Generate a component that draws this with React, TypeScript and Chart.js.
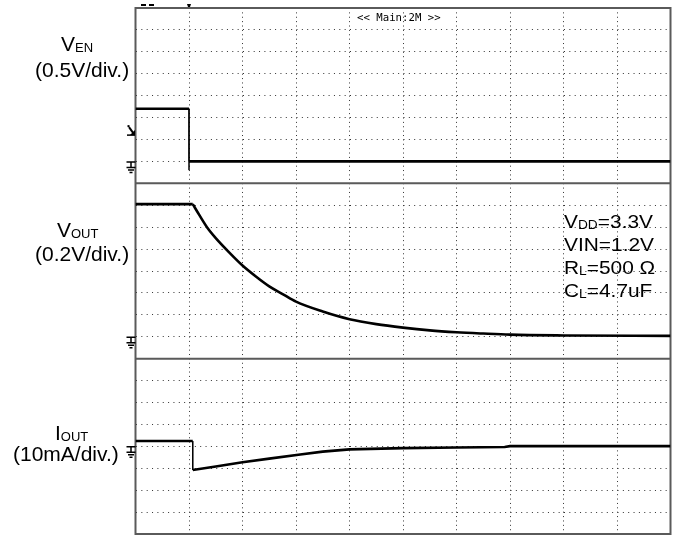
import React, { useEffect, useRef } from 'react';
import { Chart, registerables } from 'chart.js';

Chart.register(...registerables);

// ---- data (time in scope divisions, 10 div full screen) ----
const enTime = [0, 1.0, 1.0, 1.0, 10];
const enVolts = [1.2, 1.2, -0.2, 0, 0];

const outTime = [0, 1.07, 1.2, 1.35, 1.5, 1.75, 2.0, 2.25, 2.5, 2.75, 3.0, 3.5, 4.0, 4.5, 5.0, 5.5, 6.0, 6.5, 7.0, 8.0, 10];
const outVolts = [1.21, 1.21, 1.105, 0.99, 0.9, 0.77, 0.65, 0.55, 0.46, 0.39, 0.32, 0.23, 0.16, 0.115, 0.083, 0.058, 0.041, 0.029, 0.019, 0.012, 0.008];
const outKneeIndex = 1; // start of discharge

const iTime = [0, 1.07, 1.07, 1.5, 2.0, 2.5, 3.08, 3.5, 4.0, 5.0, 6.0, 6.9, 7.0, 10];
const iMilliamps = [2.4, 2.4, -10.8, -9.2, -7.3, -5.6, -3.7, -2.4, -1.4, -0.8, -0.5, -0.3, 0.1, 0.1];

// vertical ranges: 8 divisions each
const enRange = [-0.5, 3.5]; // 0.5 V/div
const outRange = [-0.2, 1.4]; // 0.2 V/div
const iRange = [-40, 40]; // 10 mA/div
const timeRange = [0, 10];
const triggerLevel = 0.6;
const triggerTime = 1.0;

const channelNames = [
  ['V', 'EN'],
  ['V', 'OUT'],
  ['I', 'OUT'],
];
const channelScales = ['(0.5V/div.)', '(0.2V/div.)', '(10mA/div.)'];
const conditionLines = [
  ['V', 'DD', '=3.3V'],
  ['VIN=1.2V', '', ''],
  ['R', 'L', '=500 Ω'],
  ['C', 'L', '=4.7uF'],
];
const headerText = '<< Main:2M >>';

const SANS = '"Liberation Sans", Arial, Helvetica, sans-serif';

function toPoints(xs: number[], ys: number[]) {
  return xs.map((x, i) => ({ x, y: ys[i] }));
}

function divTicks(min: number, max: number) {
  return (scale: any) => {
    const t = [];
    for (let i = 0; i <= 8; i++) t.push({ value: min + ((max - min) * i) / 8 });
    scale.ticks = t;
  };
}

function drawSubText(
  ctx: CanvasRenderingContext2D,
  x: number,
  y: number,
  main: string,
  sub: string,
  rest: string,
  size: number,
  subSize: number,
  sx = 1
) {
  ctx.save();
  ctx.translate(x, y);
  ctx.scale(sx, 1);
  ctx.fillStyle = '#000';
  ctx.textBaseline = 'alphabetic';
  ctx.textAlign = 'left';
  ctx.font = `${size}px ${SANS}`;
  ctx.fillText(main, 0, 0);
  let cx = ctx.measureText(main).width;
  if (sub) {
    ctx.font = `${subSize}px ${SANS}`;
    ctx.fillText(sub, cx, 1);
    cx += ctx.measureText(sub).width;
  }
  if (rest) {
    ctx.font = `${size}px ${SANS}`;
    ctx.fillText(rest, cx, 0);
  }
  ctx.restore();
}

function drawGround(ctx: CanvasRenderingContext2D, x: number, y: number) {
  ctx.save();
  ctx.strokeStyle = '#000';
  ctx.lineWidth = 1.5;
  ctx.beginPath();
  ctx.moveTo(x - 4.5, y + 0.5);
  ctx.lineTo(x + 4.5, y + 0.5);
  ctx.moveTo(x, y + 0.5);
  ctx.lineTo(x, y + 6);
  ctx.moveTo(x - 4.5, y + 6);
  ctx.lineTo(x + 4.5, y + 6);
  ctx.moveTo(x - 3, y + 8.5);
  ctx.lineTo(x + 3, y + 8.5);
  ctx.moveTo(x - 1.5, y + 11);
  ctx.lineTo(x + 1.5, y + 11);
  ctx.stroke();
  ctx.restore();
}

const scopeDecor = {
  id: 'scopeDecor',
  beforeDatasetsDraw(chart: any) {
    const ctx: CanvasRenderingContext2D = chart.ctx;
    const { left, right, top, bottom } = chart.chartArea;
    const yE = chart.scales.yEN;
    const yO = chart.scales.yOUT;
    ctx.save();
    ctx.strokeStyle = '#5a5a5a';
    ctx.lineWidth = 2;
    ctx.strokeRect(left, top, right - left, bottom - top);
    ctx.beginPath();
    ctx.moveTo(left, yE.bottom);
    ctx.lineTo(right, yE.bottom);
    ctx.moveTo(left, yO.bottom);
    ctx.lineTo(right, yO.bottom);
    ctx.stroke();
    ctx.restore();
  },
  afterDraw(chart: any) {
    const ctx: CanvasRenderingContext2D = chart.ctx;
    const xS = chart.scales.x;
    const yE = chart.scales.yEN;
    const yO = chart.scales.yOUT;
    const yI = chart.scales.yI;

    // channel labels
    drawSubText(ctx, 61, 51, channelNames[0][0], channelNames[0][1], '', 21, 13);
    drawSubText(ctx, 35, 77, channelScales[0], '', '', 21, 13);
    drawSubText(ctx, 57, 236.5, channelNames[1][0], channelNames[1][1], '', 21, 13);
    drawSubText(ctx, 35, 261, channelScales[1], '', '', 21, 13);
    drawSubText(ctx, 55, 440, channelNames[2][0], channelNames[2][1], '', 21, 13);
    drawSubText(ctx, 13, 461, channelScales[2], '', '', 21, 13);

    // test conditions
    const base = [228.3, 251, 273.5, 296.5];
    conditionLines.forEach((c, i) => drawSubText(ctx, 564, base[i], c[0], c[1], c[2], 19, 12.5, 1.1));

    // ground markers
    drawGround(ctx, 131, yE.getPixelForValue(0));
    drawGround(ctx, 131, yO.getPixelForValue(0));
    drawGround(ctx, 131, yI.getPixelForValue(0));

    // trigger level marker
    const ty = yE.getPixelForValue(triggerLevel);
    ctx.save();
    ctx.fillStyle = '#000';
    ctx.strokeStyle = '#000';
    ctx.fillRect(127.5, ty - 10, 2, 2);
    ctx.lineWidth = 2;
    ctx.beginPath();
    ctx.moveTo(129, ty - 8);
    ctx.lineTo(134, ty - 1);
    ctx.stroke();
    ctx.beginPath();
    ctx.moveTo(130, ty);
    ctx.lineTo(135, ty);
    ctx.lineTo(135, ty - 5);
    ctx.closePath();
    ctx.fill();
    ctx.lineWidth = 1.5;
    ctx.beginPath();
    ctx.moveTo(127, ty);
    ctx.lineTo(135, ty);
    ctx.stroke();

    // trigger position marker + top ticks
    const tx = xS.getPixelForValue(triggerTime);
    ctx.beginPath();
    ctx.moveTo(tx - 2, 4);
    ctx.lineTo(tx + 2, 4);
    ctx.lineTo(tx + 1, 7);
    ctx.lineTo(tx - 1, 7);
    ctx.closePath();
    ctx.fill();
    ctx.fillRect(141, 4, 5, 2);
    ctx.fillRect(149, 4, 5, 2);

    // header
    ctx.font = '10.7px "DejaVu Sans Mono", monospace';
    ctx.textBaseline = 'alphabetic';
    ctx.textAlign = 'left';
    ctx.fillText(headerText, 357, 20.5);
    ctx.restore();
  },
};

const lineStyle = {
  borderColor: '#000',
  borderWidth: 2.6,
  pointRadius: 0,
  tension: 0,
  fill: false,
  segment: {
    borderWidth: (c: any) => (c.p0.parsed.x === c.p1.parsed.x ? 1 : 2.6),
  },
};

const hGrid = { color: '#333', lineWidth: 1, drawTicks: false };

function yAxis(range: number[], weight: number) {
  return {
    type: 'linear' as const,
    position: 'left' as const,
    stack: 'scope',
    stackWeight: 1,
    weight,
    min: range[0],
    max: range[1],
    ticks: { display: false },
    afterBuildTicks: divTicks(range[0], range[1]),
    grid: hGrid,
    border: { display: false, dash: [1, 4.35] },
  };
}

export default function App() {
  const ref = useRef<HTMLCanvasElement>(null);
  useEffect(() => {
    const canvas = ref.current;
    if (!canvas) return;
    const chart = new Chart(canvas, {
      type: 'line',
      data: {
        datasets: [
          { label: 'VEN', data: toPoints(enTime, enVolts), yAxisID: 'yEN', ...lineStyle },
          {
            label: 'VOUT',
            data: toPoints(outTime.slice(0, outKneeIndex + 1), outVolts.slice(0, outKneeIndex + 1)),
            yAxisID: 'yOUT',
            ...lineStyle,
          },
          {
            label: 'VOUT discharge',
            data: toPoints(outTime.slice(outKneeIndex), outVolts.slice(outKneeIndex)),
            yAxisID: 'yOUT',
            ...lineStyle,
            cubicInterpolationMode: 'monotone',
          },
          { label: 'IOUT', data: toPoints(iTime, iMilliamps), yAxisID: 'yI', ...lineStyle },
        ] as any,
      },
      options: {
        responsive: false,
        animation: false,
        devicePixelRatio: 1,
        layout: { padding: { left: 135.5, right: 3.5, top: 8, bottom: 2 } },
        plugins: { legend: { display: false }, tooltip: { enabled: false }, title: { display: false } },
        events: [],
        scales: {
          x: {
            type: 'linear',
            min: timeRange[0],
            max: timeRange[1],
            ticks: { display: false, stepSize: 1 },
            grid: { color: '#333', lineWidth: 1, drawTicks: false },
            border: { display: false, dash: [1, 3.38] },
          },
          yEN: yAxis(enRange, 3),
          yOUT: yAxis(outRange, 2),
          yI: yAxis(iRange, 1),
        } as any,
      },
      plugins: [scopeDecor],
    });
    return () => chart.destroy();
  }, []);
  return (
    <div style={{ position: 'absolute', left: 0, top: 0, width: 674, height: 536, background: '#fff' }}>
      <canvas ref={ref} width={674} height={536} style={{ display: 'block', width: 674, height: 536 }} />
    </div>
  );
}
